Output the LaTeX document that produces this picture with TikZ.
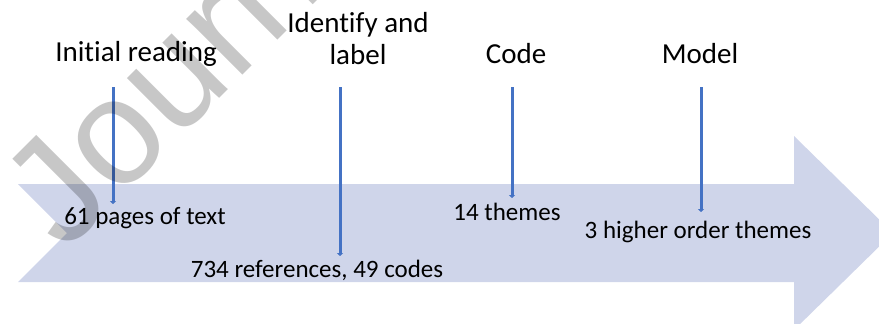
\documentclass[tikz,border=0pt]{standalone}
\usepackage{fontspec}
\setmainfont{Carlito}[Ligatures=NoCommon]
\newfontfamily\markfont{Liberation Sans}
\usetikzlibrary{arrows.meta}
\definecolor{flowfill}{HTML}{CFD5EA}
\definecolor{stepline}{HTML}{4472C4}
\begin{document}
\begin{tikzpicture}[x=1pt,y=-1pt,
  stage/.style={font=\fontsize{29}{32}\selectfont, inner sep=0pt, anchor=base, align=center},
  result/.style={font=\fontsize{25}{30}\selectfont, inner sep=0pt, anchor=base},
  feed/.style={draw=stepline, line width=3pt, -{Triangle[width=6pt,length=3pt]}},
]
\useasboundingbox (0,0) rectangle (879,324);
\clip (0,0) rectangle (879,324);

% broad process arrow
\fill[flowfill] (18,184) -- (794,184) -- (794,136) -- (893,233) -- (794,330)
  -- (794,282) -- (18,282) -- (67,233) -- cycle;

% stage titles (base anchor of a two-line node sits on its last line)
\node[stage] (read)  at (136,61) {Initial reading};
\node[stage] (ident) at (358,64) {Identify and\\label};
\node[stage] (code)  at (516,63) {Code};
\node[stage] (model) at (700,63) {Model};

% outcomes on the arrow
\node[result] (pages) at (145,224) {61 pages of text};
\node[result] (refs)  at (317,277) {734 references, 49 codes};
\node[result] (themes) at (507,220) {14 themes};
\node[result] (higher) at (698,238) {3 higher order themes};

% connector ends
\coordinate (s1) at (113,87);  \coordinate (e1) at (113,204);
\coordinate (s2) at (340,87);  \coordinate (e2) at (340,256);
\coordinate (s3) at (512,87);  \coordinate (e3) at (512,198);
\coordinate (s4) at (701,87);  \coordinate (e4) at (701,212);
\draw[feed] (s1) -- (e1);
\draw[feed] (s2) -- (e2);
\draw[feed] (s3) -- (e3);
\draw[feed] (s4) -- (e4);

% watermark
\node[rotate=45, anchor=base west, inner sep=0pt, text=black, opacity=0.22,
  font=\markfont\fontsize{150}{150}\selectfont] (mark) at (64,254) {Journal Pre-proof};
\end{tikzpicture}
\end{document}
